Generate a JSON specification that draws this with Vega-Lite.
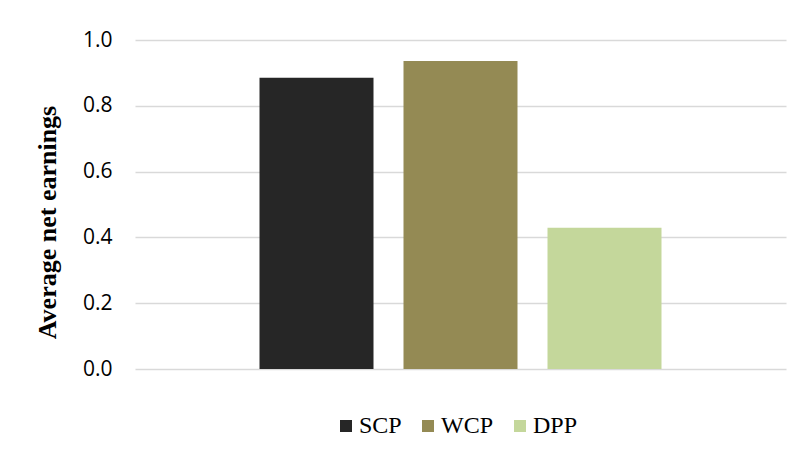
{
  "$schema": "https://vega.github.io/schema/vega-lite/v6.json",
  "width": 651,
  "height": 329,
  "autosize": {"type": "none"},
  "padding": {"left": 135, "top": 40, "right": 17, "bottom": 84},
  "background": "white",
  "data": {
    "values": [
      {"series": "SCP", "value": 0.885},
      {"series": "WCP", "value": 0.936},
      {"series": "DPP", "value": 0.429}
    ]
  },
  "mark": {"type": "bar"},
  "encoding": {
    "x": {
      "field": "series",
      "type": "nominal",
      "sort": ["SCP", "WCP", "DPP"],
      "axis": null,
      "scale": {"paddingInner": 0.2083, "paddingOuter": 0.8646}
    },
    "y": {
      "field": "value",
      "type": "quantitative",
      "scale": {"domain": [0, 1], "nice": false},
      "axis": {
        "values": [0, 0.2, 0.4, 0.6, 0.8, 1.0],
        "format": ".1f",
        "title": "Average net earnings",
        "titleFont": "Liberation Serif",
        "titleFontSize": 26,
        "titleFontWeight": "bold",
        "titleColor": "#000000",
        "titlePadding": 22,
        "titleY": 182,
        "labelFont": "Open Sans",
        "labelFontSize": 21,
        "labelColor": "#000000",
        "labelPadding": 23,
        "domain": false,
        "ticks": false,
        "gridColor": "#d9d9d9",
        "gridWidth": 1.5
      }
    },
    "color": {
      "field": "series",
      "type": "nominal",
      "sort": ["SCP", "WCP", "DPP"],
      "scale": {"domain": ["SCP", "WCP", "DPP"], "range": ["#262626", "#948A54", "#C4D79B"]},
      "legend": {
        "title": null,
        "orient": "none",
        "direction": "horizontal",
        "legendX": 199,
        "legendY": 374,
        "symbolType": "square",
        "symbolSize": 144,
        "symbolStrokeWidth": 0,
        "symbolOpacity": 1,
        "labelFont": "Liberation Serif",
        "labelFontSize": 24,
        "labelColor": "#000000",
        "labelOffset": 1,
        "columnPadding": 14
      }
    }
  },
  "config": {"view": {"stroke": null}}
}
